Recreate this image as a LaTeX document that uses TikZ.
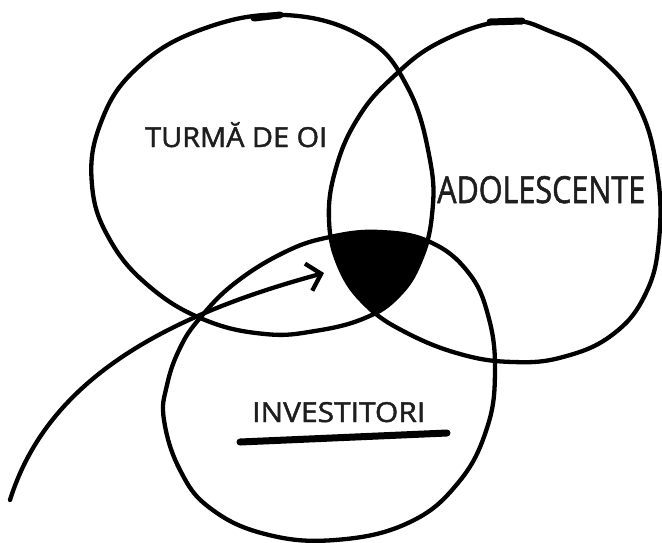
\documentclass[tikz,border=0pt]{standalone}
\usepackage{fontspec}
\setmainfont{Open Sans}
\newfontfamily\handfont[FakeBold=1.6]{Open Sans}
\usetikzlibrary{arrows.meta}
\definecolor{ink}{HTML}{1E1E1E}
\tikzset{
  ring/.style={line width=4.3pt, draw=black},
  label/.style={anchor=base west, inner sep=0pt, text=ink, font=\handfont},
  pointer/.style={line width=4.3pt, -{Straight Barb[length=13pt,width=28pt]}},
  uline/.style={line width=7pt, line cap=round},
  topmark/.style={line width=7pt, line cap=round}
}
\def\circA{plot[smooth cycle,tension=0.7] coordinates {(285,15) (365,38) (408,88) (430,160) (432,215) (420,262) (398,296) (365,318) (315,331) (265,334) (205,320) (150,287) (110,240) (92,185) (100,125) (135,70) (200,30)}}
\def\circB{plot[smooth cycle,tension=0.7] coordinates {(505,21) (552,32) (600,58) (638,105) (657,170) (659,240) (645,295) (612,335) (563,357) (513,362) (460,354) (405,332) (366,305) (340,268) (329,220) (336,168) (358,118) (392,78) (440,42)}}
\def\circC{plot[smooth cycle,tension=0.7] coordinates {(380,232) (430,242) (468,272) (488,315) (495,370) (487,428) (458,483) (408,523) (335,540) (265,534) (210,508) (180,470) (164,420) (167,385) (180,348) (200,318) (235,283) (285,252) (330,237)}}
\begin{document}
\begin{tikzpicture}[x=1pt,y=-1pt,line cap=round,line join=round]
\useasboundingbox (0,0) rectangle (662,542);
% filled common region
\begin{scope}
  \clip \circA;
  \clip \circB;
  \fill[black] \circC;
\end{scope}
% circles
\draw[ring] \circA;
\draw[ring] \circB;
\draw[ring] \circC;
\draw[topmark] (254,18) -- (280,15);
\draw[topmark] (490,22) -- (522,21);
% labels
\node[label] (turma) at (145,147) {\resizebox{182pt}{20pt}{TURM\smash{Ă} DE OI}};
\node[label] (adol) at (437,203) {\resizebox{208pt}{27pt}{ADOLESCENTE}};
\node[label] (inv) at (252,422) {\resizebox{173pt}{20pt}{INVESTITORI}};
% underline
\coordinate (ul1) at (240,442);
\coordinate (ul2) at (447,433);
\draw[uline] (ul1) -- (ul2);
% arrow
\coordinate (astart) at (10,500);
\coordinate (aend) at (324,273);
\draw[pointer] (astart) .. controls (45,388) and (150,320) .. (aend);
\end{tikzpicture}
\end{document}
